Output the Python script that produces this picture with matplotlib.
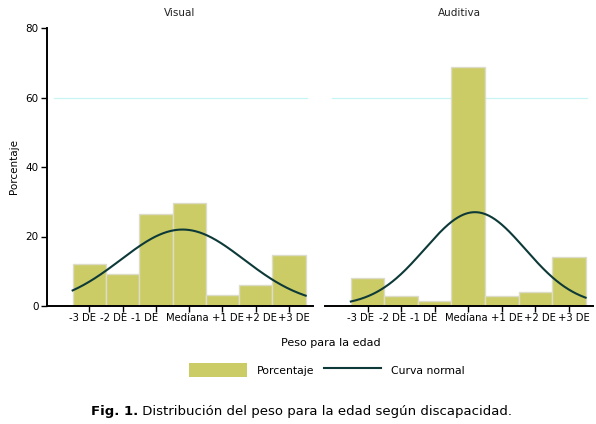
import numpy as np
import matplotlib
matplotlib.use("Agg")
import matplotlib.pyplot as plt
from matplotlib.patches import Patch
from matplotlib.lines import Line2D
from matplotlib.transforms import ScaledTranslation, blended_transform_factory

categories = ["-3 DE", "-2 DE", "-1 DE", "Mediana", "+1 DE", "+2 DE", "+3 DE"]
panels = ["Visual", "Auditiva"]
visual_pct = [12.0, 9.1, 26.6, 29.5, 3.2, 6.0, 14.8]
auditiva_pct = [8.0, 2.8, 1.4, 68.8, 2.8, 3.9, 14.2]
# fitted normal-curve parameters (centre in category units, spread, peak height)
visual_curve = dict(mean=2.8, sd=1.85, peak=22.0)
auditiva_curve = dict(mean=3.2, sd=1.5, peak=27.0)
yticks = [0, 20, 40, 60, 80]

BAR = "#cccc66"
CURVE = "#0d3a38"

W, H = 596, 424
fig = plt.figure(figsize=(W / 100, H / 100), dpi=100)
plt.rcParams['font.family'] = ['DejaVu Sans']

def fx(px):
    return px / W

def fy(py):
    return 1 - py / H

ax1 = fig.add_axes([fx(47), fy(306), (313 - 47) / W, (306 - 28) / H])
ax2 = fig.add_axes([fx(325), fy(306), (593 - 325) / W, (306 - 28) / H])

label_shift_px = [-7, -9, -11, -2, 5, 5, 5]

for ax, vals, cp, title, first in [(ax1, visual_pct, visual_curve, "Visual", True),
                                   (ax2, auditiva_pct, auditiva_curve, "Auditiva", False)]:
    x = np.arange(len(categories))
    ax.axhline(60, xmin=0.025, xmax=0.977, color="#c8f4f4", lw=0.9, zorder=0)
    ax.bar(x, vals, width=1.0, color=BAR, edgecolor="#dcdcc8", linewidth=1.0, zorder=2)
    xs = np.linspace(-0.5, len(categories) - 0.5, 300)
    ys = cp["peak"] * np.exp(-0.5 * ((xs - cp["mean"]) / cp["sd"]) ** 2)
    ax.plot(xs, ys, color=CURVE, lw=1.5, zorder=3)
    ax.set_xlim(-1.27, 6.72)
    ax.set_ylim(0, 80)
    ax.set_xticks(x)
    ax.set_xticklabels([])
    trans = blended_transform_factory(ax.transData, ax.transAxes)
    for xi, lab, dx in zip(x, categories, label_shift_px):
        ax.text(xi, 0, lab, fontsize=7.2, ha="center", va="top",
                transform=trans + ScaledTranslation(dx / 100, -7 / 100, fig.dpi_scale_trans))
    ax.set_title(title, fontsize=7.5, pad=9, color="#222222")
    for s in ["top", "right"]:
        ax.spines[s].set_visible(False)
    ax.spines["bottom"].set_linewidth(1.4)
    ax.tick_params(axis="x", length=4, width=1, pad=2)
    ax.set_facecolor("none")
    if first:
        ax.spines["left"].set_linewidth(1.4)
        ax.set_yticks(yticks)
        ax.set_yticklabels([str(v) for v in yticks], fontsize=7.5)
        ax.tick_params(axis="y", length=4, width=1, pad=2)
        ax.set_ylabel("Porcentaje", fontsize=7.5, labelpad=5)
    else:
        ax.spines["left"].set_visible(False)
        ax.set_yticks([])

fig.text(fx(331), fy(343), "Peso para la edad", ha="center", va="center", fontsize=8)

handles = [Patch(facecolor=BAR, edgecolor="none"), Line2D([0], [0], color=CURVE, lw=1.5)]
fig.legend(handles, ["Porcentaje", "Curva normal"], loc="center", bbox_to_anchor=(fx(327), fy(370)),
           ncol=2, frameon=False, fontsize=7.8, handlelength=5.3, handleheight=1.5,
           columnspacing=0.9, handletextpad=0.9)

fig.canvas.draw()
r = fig.canvas.get_renderer()
t1 = fig.text(0, fy(411), "Fig. 1.", fontsize=9.5, fontweight="bold", va="center", ha="left")
t2 = fig.text(0, fy(411), " Distribución del peso para la edad según discapacidad.", fontsize=9.5,
              va="center", ha="left")
w1 = t1.get_window_extent(r).width
w2 = t2.get_window_extent(r).width
start = (fx(301.5) * W - (w1 + w2) / 2)
t1.set_x(start / W)
t2.set_x((start + w1) / W)

fig.savefig("out.png", dpi=100)
